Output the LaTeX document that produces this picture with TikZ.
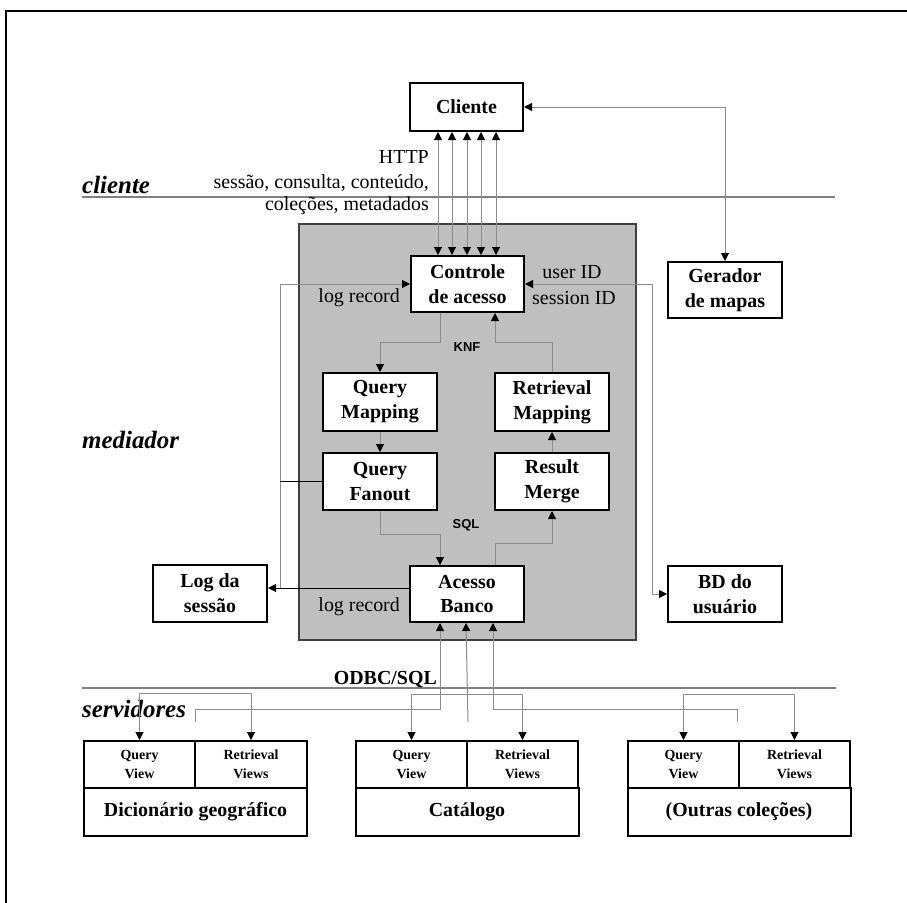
\documentclass[tikz,border=0pt]{standalone}
\usepackage{fontspec}
\setmainfont{Liberation Serif}
\newfontfamily\sansfnt{Liberation Sans}
\usetikzlibrary{arrows.meta}
\begin{document}
\begin{tikzpicture}[x=1bp,y=-1bp,
  >={Triangle[length=8bp,width=8bp,color=black]},
  mybox/.style={draw=black,line width=2bp,fill=white,inner sep=0pt,align=center,
    font=\bfseries\fontsize{20}{25}\selectfont,minimum width=114bp,minimum height=57bp},
  cell/.style={draw=black,line width=2bp,fill=white,inner sep=0pt,align=center,
    font=\bfseries\fontsize{14}{19}\selectfont,minimum height=47bp},
  namecell/.style={draw=black,line width=2bp,fill=white,inner sep=0pt,align=center,
    font=\bfseries\fontsize{20}{25}\selectfont,minimum width=223bp,minimum height=48bp},
  gbox/.style={draw=black!75,fill=black!25,line width=2bp,inner sep=0pt,
    minimum width=337bp,minimum height=416bp},
  lbl/.style={inner sep=0pt,font=\fontsize{20}{24}\selectfont},
  layer/.style={inner sep=0pt,font=\bfseries\itshape\fontsize{25}{30}\selectfont,anchor=west},
  sanslbl/.style={inner sep=0pt,font=\sansfnt\bfseries\fontsize{13}{15}\selectfont},
  conn/.style={draw=black!45,line width=1bp},
  blk/.style={draw=black,line width=1bp},
  sepline/.style={draw=black!50,line width=2bp},
]
\useasboundingbox (0,0) rectangle (907,903);
% frame
\draw[line width=2bp] (6,903) -- (6,11) -- (907,11);

% layer separators
\draw[sepline] (82,197) -- (835,197);
\draw[sepline] (82,688) -- (836,688);

% mediator area
\node[gbox] (med) at (467.5,432) {};

% boxes
\node[mybox,minimum width=113bp,minimum height=48bp] (cliente) at (466.5,107) {Cliente};
\node[mybox,minimum width=113bp,minimum height=56bp] (controle) at (467.5,284) {Controle\\de acesso};
\node[mybox,minimum height=58bp] (qmap) at (380,402) {Query\\Mapping};
\node[mybox] (qfan) at (380,481.5) {Query\\Fanout};
\node[mybox,minimum height=58bp] (rmap) at (552,402) {Retrieval\\Mapping};
\node[mybox] (rmerge) at (552,481.5) {Result\\Merge};
\node[mybox,minimum height=56bp] (acesso) at (467,594) {Acesso\\Banco};
\node[mybox] (logs) at (210,593.5) {Log da\\sessão};
\node[mybox,minimum height=56bp] (bd) at (725,594) {BD do\\usuário};
\node[mybox,minimum height=56bp] (gerador) at (725,290) {Gerador\\de mapas};

% servers
\node[cell,minimum width=111bp] (dqv) at (139.5,764.5) {Query\\View};
\node[cell,minimum width=112bp] (drv) at (251,764.5) {Retrieval\\Views};
\node[namecell] (dname) at (195.5,812) {Dicionário geográfico};
\node[cell,minimum width=111bp] (cqv) at (411.5,764.5) {Query\\View};
\node[cell,minimum width=111bp] (crv) at (522.5,764.5) {Retrieval\\Views};
\node[namecell] (cname) at (467,812) {Catálogo};
\node[cell,minimum width=111bp] (oqv) at (683.5,764.5) {Query\\View};
\node[cell,minimum width=111bp] (orv) at (794.5,764.5) {Retrieval\\Views};
\node[namecell] (oname) at (739,812) {(Outras coleções)};

% labels
\node[layer] (lcli) at (82,185) {cliente};
\node[layer] (lmed) at (82,440) {mediador};
\node[layer] (lserv) at (82,709) {servidores};
\node[lbl,anchor=east] (http) at (429,157) {HTTP};
\node[lbl,anchor=east] (http2) at (429,183) {sessão, consulta, conteúdo,};
\node[lbl,anchor=east] (http3) at (429,206) {coleções, metadados};
\node[lbl,anchor=east,font=\bfseries\fontsize{20}{24}\selectfont] (odbc) at (437,680) {ODBC/SQL};
\node[lbl,anchor=east] (lr1) at (400,298) {log record};
\node[lbl,anchor=east] (lr2) at (400,607) {log record};
\node[lbl] (uid) at (572,272) {user ID};
\node[lbl] (sid) at (574,298) {session ID};
\node[sanslbl] (knf) at (467,347) {KNF};
\node[sanslbl] (sql) at (466,525) {SQL};

% client <-> access control
\foreach \x in {438,452,467,481,496}
  \draw[conn,<->] (\x,0 |- cliente.south) -- (\x,0 |- controle.north);
\draw[conn,<->] (cliente.east) -| (gerador.north);

% log lines
\coordinate (jl) at (280,588);
\draw[blk,->] (acesso.west |- jl) -- (logs.east |- jl);
\draw[conn,->] (jl) -- (jl |- controle.west) -- (controle.west);
\draw[blk] (qfan.west) -- (jl |- qfan.west);

% user db
\coordinate (jr) at (652,594);
\draw[conn,<->] (controle.east) -- (jr |- controle.east) -- (jr) -- (bd.west);

% internal flow
\draw[conn,->] (440,0 |- controle.south) -- (440,342) -| (qmap.north);
\draw[conn,->] (rmap.north) |- (495,342) -- (495,0 |- controle.south);
\draw[conn,->] (qmap.south) -- (qfan.north);
\draw[conn,->] (qfan.south) |- (440,534) -- (440,0 |- acesso.north);
\draw[conn,->] (495,0 |- acesso.north) -- (495,543) -| (rmerge.south);
\draw[conn,->] (rmerge.north) -- (rmap.south);

% acesso <-> servers
\coordinate (e1) at (195,722);
\coordinate (e2) at (468,722);
\coordinate (e3) at (737,722);
\draw[conn,<-] (440,0 |- acesso.south) -- (440,709) -| (e1);
\draw[conn,<-] (466,0 |- acesso.south) -- (e2);
\draw[conn,<-] (493,0 |- acesso.south) -- (493,709) -| (e3);

% brackets over server views
\draw[conn,<->] (dqv.north) -- (dqv.north |- 0,693) -| (drv.north);
\draw[conn,<->] (cqv.north) -- (cqv.north |- 0,694) -| (crv.north);
\draw[conn,<->] (oqv.north) -- (oqv.north |- 0,694) -| (orv.north);
\end{tikzpicture}
\end{document}
